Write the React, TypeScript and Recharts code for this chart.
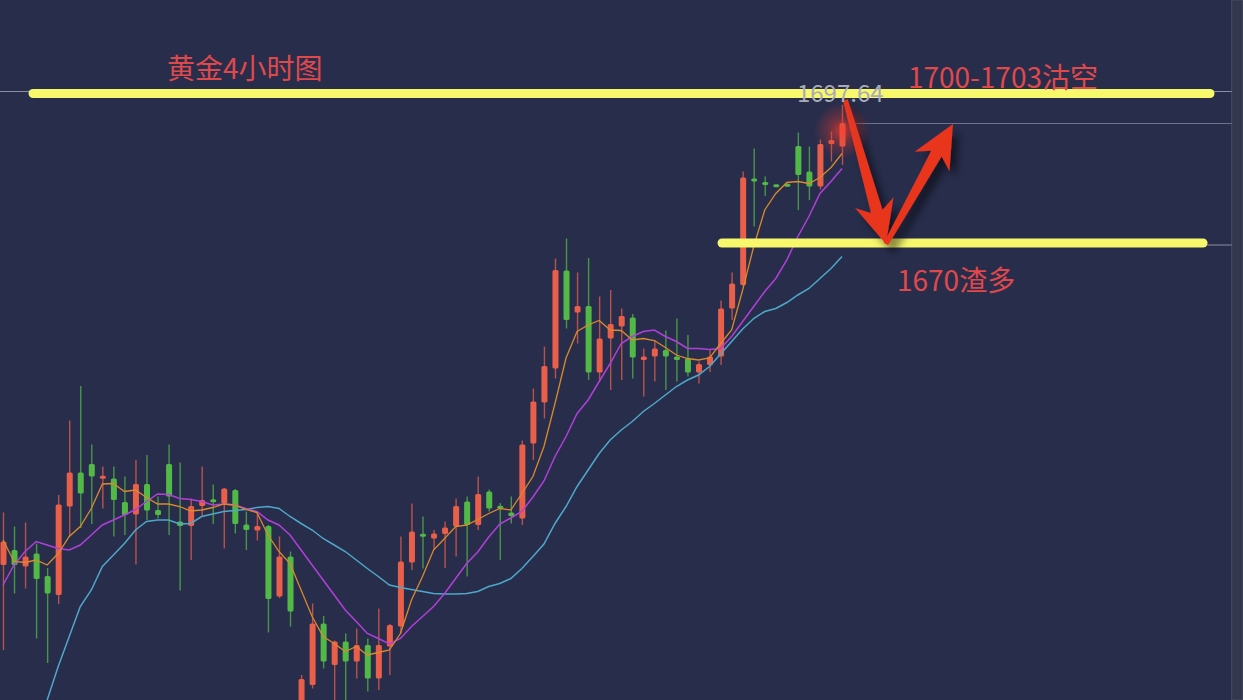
import React from 'react';
import {
  ComposedChart,
  Bar,
  Line,
  XAxis,
  YAxis,
  ReferenceLine,
  ReferenceDot,
  ReferenceArea,
} from 'recharts';

// ---- data (gold, 4h candles) ----
const opens = [
  1605.6, 1608.6, 1605.3, 1607.9, 1603.4, 1599.6, 1617.3, 1624.1, 1625.8, 1622.9,
  1622.9, 1618.2, 1615.7, 1621.8, 1616.6, 1625.8, 1614.3, 1613.4, 1617.4, 1618.7,
  1617.9, 1620.6, 1613.7, 1612.5, 1613.4, 1599.3, 1607.3, 1574.0, 1581.6, 1593.9,
  1585.6, 1590.3, 1586.3, 1589.6, 1582.9, 1589.3, 1593.3, 1606.1, 1611.8, 1610.9,
  1611.8, 1613.3, 1618.3, 1613.6, 1620.3, 1617.4, 1616.1, 1614.9, 1629.9, 1638.1,
  1644.9, 1664.5, 1656.1, 1657.4, 1644.1, 1650.9, 1653.3, 1655.1, 1646.6, 1647.3,
  1648.6, 1647.3, 1646.9, 1644.1, 1645.6, 1647.3, 1656.9, 1661.6, 1682.9, 1682.1,
  1681.6, 1681.8, 1689.4, 1684.3, 1681.3, 1689.8, 1689.3,
];
const highs = [
  1616.1, 1613.3, 1614.1, 1609.9, 1605.0, 1619.6, 1634.5, 1641.4, 1629.7, 1625.3,
  1625.3, 1623.3, 1626.6, 1627.6, 1619.3, 1629.7, 1626.1, 1618.9, 1625.3, 1621.7,
  1621.0, 1620.8, 1616.3, 1616.3, 1613.6, 1611.3, 1608.3, 1583.6, 1597.9, 1595.4,
  1590.5, 1591.9, 1592.9, 1590.9, 1596.9, 1593.8, 1611.3, 1617.9, 1615.3, 1612.6,
  1614.3, 1618.9, 1619.3, 1623.3, 1620.7, 1618.0, 1619.3, 1630.5, 1640.9, 1649.3,
  1666.9, 1670.9, 1664.1, 1667.0, 1659.3, 1660.6, 1656.9, 1655.8, 1648.9, 1650.6,
  1652.5, 1654.9, 1651.6, 1646.3, 1648.6, 1658.5, 1664.1, 1684.3, 1688.9, 1683.3,
  1681.7, 1681.9, 1692.1, 1689.3, 1690.7, 1692.3, 1697.64,
];
const lows = [
  1588.6, 1599.9, 1600.9, 1590.9, 1586.0, 1597.8, 1611.3, 1613.0, 1613.8, 1616.9,
  1611.3, 1611.6, 1605.7, 1614.6, 1614.9, 1611.6, 1600.5, 1606.6, 1615.3, 1613.8,
  1608.9, 1611.9, 1608.6, 1610.5, 1592.1, 1599.0, 1593.3, 1572.0, 1580.9, 1584.9,
  1578.0, 1578.4, 1582.9, 1580.3, 1580.6, 1583.6, 1591.9, 1604.6, 1604.9, 1608.6,
  1605.0, 1607.3, 1603.3, 1612.6, 1616.3, 1606.6, 1613.9, 1613.6, 1626.6, 1634.9,
  1642.9, 1652.9, 1649.9, 1642.6, 1642.3, 1640.6, 1642.6, 1642.9, 1639.3, 1642.3,
  1640.6, 1642.3, 1643.3, 1641.9, 1644.2, 1645.6, 1654.6, 1661.3, 1673.3, 1679.4,
  1681.2, 1681.2, 1676.6, 1678.6, 1680.7, 1686.3, 1685.6,
];
const closes = [
  1610.3, 1605.6, 1607.3, 1602.8, 1599.9, 1617.7, 1624.1, 1619.9, 1623.3, 1623.4,
  1618.6, 1615.6, 1621.8, 1616.5, 1615.6, 1619.3, 1613.4, 1617.4, 1618.6, 1618.2,
  1620.9, 1613.8, 1612.6, 1613.4, 1598.8, 1607.3, 1596.3, 1582.8, 1593.9, 1586.3,
  1590.3, 1586.3, 1589.6, 1582.9, 1589.6, 1593.6, 1606.3, 1612.3, 1611.3, 1611.9,
  1613.1, 1617.4, 1613.6, 1619.8, 1616.9, 1616.9, 1615.4, 1629.7, 1638.3, 1645.4,
  1664.6, 1654.6, 1657.4, 1644.1, 1650.9, 1653.8, 1655.4, 1647.1, 1647.3, 1648.9,
  1647.3, 1646.6, 1644.1, 1645.8, 1647.3, 1656.9, 1661.9, 1683.1, 1682.3, 1681.7,
  1681.3, 1681.3, 1683.6, 1681.3, 1689.8, 1690.6, 1694.0,
];
const ma5 = [
  1610.6, 1606.3, 1606.1, 1606.6, 1605.6, 1607.9, 1611.3, 1613.3, 1616.9, 1621.8,
  1621.9, 1620.3, 1620.6, 1619.1, 1617.8, 1617.8, 1617.3, 1616.4, 1616.6, 1617.1,
  1617.8, 1617.6, 1616.7, 1616.1, 1611.6, 1608.3, 1605.9, 1600.6, 1595.3, 1591.3,
  1589.9, 1588.3, 1589.3, 1587.6, 1588.1, 1588.6, 1591.9, 1598.6, 1603.3, 1608.6,
  1610.9, 1613.3, 1613.6, 1614.7, 1615.9, 1616.9, 1616.6, 1619.9, 1623.3, 1629.3,
  1637.9, 1647.0, 1652.3, 1653.6, 1654.5, 1652.6, 1652.5, 1650.6, 1650.9, 1650.5,
  1649.1, 1647.6, 1646.9, 1646.6, 1647.0, 1649.9, 1652.6, 1660.6, 1669.3, 1676.6,
  1679.9, 1682.1, 1682.3, 1681.9, 1683.1, 1685.1, 1687.9,
];
const ma10 = [
  1601.6, 1605.6, 1608.3, 1610.3, 1609.6, 1608.9, 1608.6, 1609.6, 1611.6, 1613.6,
  1614.6, 1615.6, 1616.7, 1618.3, 1619.8, 1619.7, 1618.9, 1618.7, 1618.3, 1617.6,
  1617.8, 1617.6, 1616.9, 1616.3, 1614.6, 1613.6, 1611.6, 1608.6, 1605.6, 1602.6,
  1599.6, 1596.6, 1594.3, 1591.9, 1590.9, 1589.8, 1590.9, 1593.3, 1595.3, 1597.3,
  1599.9, 1602.9, 1605.9, 1608.2, 1611.2, 1613.8, 1615.0, 1616.3, 1619.2, 1622.4,
  1627.3, 1631.3, 1635.9, 1638.6, 1642.3, 1645.9, 1649.9, 1651.3, 1652.3, 1652.6,
  1651.3, 1650.3, 1648.9, 1648.9, 1648.7, 1648.9, 1651.3, 1654.3, 1657.3, 1660.3,
  1662.9, 1666.6, 1671.3, 1675.3, 1679.9, 1682.3, 1684.9,
];
const ma30 = [
  null, null, null, null, 1578.6, 1585.3, 1591.3, 1597.3, 1600.6, 1605.3,
  1607.6, 1609.9, 1612.6, 1614.3, 1614.6, 1614.6, 1613.8, 1613.9, 1615.3, 1615.8,
  1616.3, 1616.5, 1616.7, 1617.1, 1617.3, 1616.9, 1615.3, 1613.9, 1612.6, 1610.9,
  1609.6, 1608.3, 1606.6, 1604.9, 1603.3, 1601.6, 1601.1, 1600.7, 1600.3, 1599.9,
  1599.8, 1599.8, 1599.9, 1600.3, 1601.3, 1601.9, 1602.9, 1604.9, 1607.3, 1609.8,
  1613.9, 1617.3, 1621.3, 1624.6, 1627.9, 1630.6, 1632.6, 1634.3, 1636.3, 1637.9,
  1639.6, 1641.3, 1642.6, 1643.6, 1645.3, 1647.8, 1650.3, 1652.8, 1654.9, 1656.3,
  1656.9, 1658.1, 1659.6, 1660.9, 1662.9, 1664.9, 1667.3,
];

// annotation levels and labels
const shortLevel = 1699.9;   // upper yellow line (1700-1703 short)
const longLevel = 1670.0;    // lower yellow line (1670 long)
const upperDrawnLine = 1700.3; // thin grey user lines
const lowerDrawnLine = 1669.6;
const lastPriceLine = 1693.9;
const maxHighLabel = '1697.64';
const titleText = '黄金4小时图';
const shortText = '1700-1703沽空';
const longText = '1670渣多';

const W = 1243;
const H = 700;
const BG = '#282d4c';
const RED = '#ea5f4a';
const GREEN = '#52b947';
const YELLOW = '#f8f86c';
const ANNOT = '#e0494b';
const FONT = '"Noto Sans CJK SC", "Noto Sans", sans-serif';

const data = closes.map((c, i) => ({
  i,
  open: opens[i],
  high: highs[i],
  low: lows[i],
  close: c,
  ma5: ma5[i],
  ma10: ma10[i],
  ma30: ma30[i],
}));

const Candle = (props: any) => {
  const { x, y, width, height, payload } = props;
  if (x == null || y == null || !payload) return null;
  const { open, close, high, low } = payload;
  const top = Math.min(y, y + height);
  const h = Math.abs(height);
  const ppu = h / (high - low);
  const yOf = (v: number) => top + (high - v) * ppu;
  const up = close >= open;
  const color = up ? RED : GREEN;
  const cx = x + width / 2;
  const bTop = yOf(Math.max(open, close));
  const bBot = yOf(Math.min(open, close));
  const bh = Math.max(bBot - bTop, 3);
  const bY = bBot - bTop < 3 ? (bTop + bBot) / 2 - 1.5 : bTop;
  return (
    <g>
      <line x1={cx} x2={cx} y1={top} y2={top + h} stroke={color} strokeWidth={1.4} strokeOpacity={0.75} />
      <rect x={cx - 3} y={bY} width={6} height={bh} rx={1.5} fill={color} />
    </g>
  );
};

let arrowId = 0;
const Arrow = (props: any) => {
  const { x1, y1, x2, y2 } = props;
  if ([x1, y1, x2, y2].some((v) => v == null || isNaN(v))) return null;
  const dx = x2 - x1;
  const dy = y2 - y1;
  const len = Math.sqrt(dx * dx + dy * dy);
  const ux = dx / len;
  const uy = dy / len;
  const nx = -uy;
  const ny = ux;
  const w0 = 5;
  const w1 = 12;
  const Lb = 43;
  const Lj = 34;
  const Hw = 20;
  const pts = [
    [x1 + nx * w0 / 2, y1 + ny * w0 / 2],
    [x2 - ux * Lj + nx * w1 / 2, y2 - uy * Lj + ny * w1 / 2],
    [x2 - ux * Lb + nx * Hw, y2 - uy * Lb + ny * Hw],
    [x2, y2],
    [x2 - ux * Lb - nx * Hw, y2 - uy * Lb - ny * Hw],
    [x2 - ux * Lj - nx * w1 / 2, y2 - uy * Lj - ny * w1 / 2],
    [x1 - nx * w0 / 2, y1 - ny * w0 / 2],
  ]
    .map(([a, b]) => `${a},${b}`)
    .join(' ');
  const id = `arrowShadow${arrowId++}`;
  return (
    <g>
      <defs>
        <filter id={id} x="-50%" y="-50%" width="200%" height="200%">
          <feDropShadow dx="6" dy="7" stdDeviation="4" floodColor="#000" floodOpacity="0.55" />
        </filter>
      </defs>
      <polygon points={pts} fill="#e8341f" filter={`url(#${id})`} />
    </g>
  );
};

const makeText = (text: string, color: string, size: number) => (props: any) => {
  const { cx, cy } = props;
  if (cx == null || cy == null) return null;
  return (
    <text x={cx} y={cy} fill={color} fontSize={size} fontFamily={FONT} dominantBaseline="central" textAnchor="start">
      {text}
    </text>
  );
};

const Glow = (props: any) => {
  const { cx, cy } = props;
  if (cx == null || cy == null) return null;
  return (
    <g>
      <defs>
        <radialGradient id="lastGlow">
          <stop offset="0%" stopColor="#ff3b2a" stopOpacity="0.75" />
          <stop offset="45%" stopColor="#e0392b" stopOpacity="0.35" />
          <stop offset="100%" stopColor="#e0392b" stopOpacity="0" />
        </radialGradient>
      </defs>
      <circle cx={cx} cy={cy} r={28} fill="url(#lastGlow)" />
    </g>
  );
};

const X_DOMAIN: [number, number] = [-0.272, 112.32];
const Y_DOMAIN: [number, number] = [1578.6, 1718.6];

export default function App() {
  return (
    <div style={{ position: 'absolute', left: 0, top: 0, width: W, height: H, background: BG }}>
      <ComposedChart width={W} height={H} data={data} margin={{ top: 0, right: 0, bottom: 0, left: 0 }}>
        <XAxis dataKey="i" type="number" domain={X_DOMAIN} hide allowDataOverflow />
        <YAxis type="number" domain={Y_DOMAIN} hide allowDataOverflow />
        <ReferenceArea x1={111.3} x2={112.32} y1={Y_DOMAIN[0]} y2={Y_DOMAIN[1]} fill="#33374d" fillOpacity={1} stroke="#4a4e63" strokeWidth={1} />
        <ReferenceLine segment={[{ x: -0.27, y: upperDrawnLine }, { x: 111.3, y: upperDrawnLine }]} stroke="#8a8ea0" strokeWidth={1} />
        <ReferenceLine segment={[{ x: 65.2, y: lowerDrawnLine }, { x: 111.3, y: lowerDrawnLine }]} stroke="#8a8ea0" strokeWidth={1} />
        <ReferenceLine segment={[{ x: 77.0, y: lastPriceLine }, { x: 111.3, y: lastPriceLine }]} stroke="#6f7388" strokeWidth={1} />
        <Line dataKey="ma30" stroke="#4ea8c8" strokeWidth={1.5} dot={false} activeDot={false} isAnimationActive={false} />
        <Line dataKey="ma10" stroke="#b23fd8" strokeWidth={1.5} dot={false} activeDot={false} isAnimationActive={false} />
        <Line dataKey="ma5" stroke="#d98a2c" strokeWidth={1.3} dot={false} activeDot={false} isAnimationActive={false} />
        <Bar dataKey={(d: any) => [d.low, d.high]} barSize={6} shape={<Candle />} activeBar={false} isAnimationActive={false} />
        <ReferenceDot x={76} y={1692.5} r={0} shape={<Glow />} />
        <ReferenceDot x={71.92} y={1700.3} r={0} shape={makeText(maxHighLabel, '#a8acba', 24)} />
        <ReferenceLine segment={[{ x: 2.72, y: shortLevel }, { x: 109.33, y: shortLevel }]} stroke={YELLOW} strokeWidth={9} strokeLinecap="round" />
        <ReferenceLine segment={[{ x: 65.13, y: longLevel }, { x: 108.7, y: longLevel }]} stroke={YELLOW} strokeWidth={9} strokeLinecap="round" />
        <ReferenceLine segment={[{ x: 76.3, y: 1698.6 }, { x: 79.98, y: 1669.8 }]} shape={<Arrow />} />
        <ReferenceLine segment={[{ x: 79.98, y: 1669.8 }, { x: 86.05, y: 1693.8 }]} shape={<Arrow />} />
        <ReferenceDot x={14.86} y={1705.2} r={0} shape={makeText(titleText, ANNOT, 28)} />
        <ReferenceDot x={81.97} y={1703.4} r={0} shape={makeText(shortText, ANNOT, 28)} />
        <ReferenceDot x={80.98} y={1662.9} r={0} shape={makeText(longText, ANNOT, 28)} />
      </ComposedChart>
    </div>
  );
}
